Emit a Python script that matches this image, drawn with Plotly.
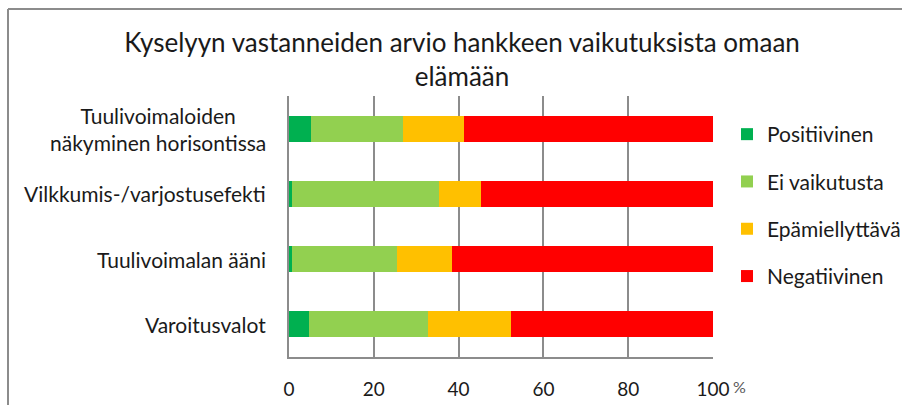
import plotly.graph_objects as go

categories = ["Tuulivoimaloiden<br>näkyminen horisontissa", "Vilkkumis-/varjostusefekti",
              "Tuulivoimalan ääni", "Varoitusvalot"]
series_names = ["Positiivinen", "Ei vaikutusta", "Epämiellyttävä", "Negatiivinen"]
positiivinen = [5.3, 0.8, 0.8, 4.7]
ei_vaikutusta = [21.7, 34.5, 24.6, 28.1]
epamiellyttava = [14.3, 10.0, 13.0, 19.5]
negatiivinen = [58.7, 54.7, 61.6, 47.7]
x_ticks = [0, 20, 40, 60, 80, 100]
colors = ["#00B050", "#92D050", "#FFC000", "#FF0000"]

W, H = 902, 405
L, R, T, B = 289, 902 - 713, 96, 405 - 357
pw, ph = W - L - R, H - T - B

fig = go.Figure()
for i, (name, vals) in enumerate(zip(series_names, [positiivinen, ei_vaikutusta, epamiellyttava, negatiivinen])):
    fig.add_trace(go.Bar(
        y=list(range(len(categories))), x=vals, name=name, orientation="h",
        marker=dict(color=colors[i], line=dict(width=0)),
        legendgroup=name, hoverinfo="x+name",
    ))

font_family = "Lato, Carlito, Calibri, sans-serif"
txt = "#1a1a1a"

annotations = []
for i, c in enumerate(categories):
    annotations.append(dict(
        text=c, x=(268 - L) / pw, xref="paper", y=i, yref="y",
        xanchor="right", yanchor="middle", align="center", showarrow=False,
        font=dict(family=font_family, size=21, color=txt),
    ))
annotations.append(dict(
    text="%", x=(739 - L) / pw, xref="paper", y=(357 - 386) / ph, yref="paper",
    xanchor="center", yanchor="middle", showarrow=False,
    font=dict(family=font_family, size=16, color="#595959"),
))

border_color = "#8c8c8c"
xl = (8 - L) / pw
yt = (357 - 9) / ph
shapes = [
    dict(type="line", xref="paper", yref="paper", x0=xl, x1=xl, y0=-1, y1=yt,
         line=dict(color=border_color, width=2)),
    dict(type="line", xref="paper", yref="paper", x0=xl, x1=3, y0=yt, y1=yt,
         line=dict(color=border_color, width=2)),
]

fig.update_layout(
    width=W, height=H,
    margin=dict(l=L, r=R, t=T, b=B, pad=0, autoexpand=False),
    paper_bgcolor="white", plot_bgcolor="white",
    barmode="stack", bargap=0.6,
    title=dict(text="Kyselyyn vastanneiden arvio hankkeen vaikutuksista omaan<br>elämään",
               x=462 / W, xanchor="center", xref="container", y=1 - 52 / H, yanchor="top",
               yref="container",
               font=dict(family=font_family, size=26, color=txt)),
    xaxis=dict(range=[0, 100], tickvals=x_ticks, ticktext=[str(v) for v in x_ticks],
               showgrid=True, gridcolor=border_color, gridwidth=1.5,
               showline=True, linecolor=border_color, linewidth=1.5, mirror=False,
               zeroline=False, ticks="", ticklabelstandoff=14, automargin=False,
               tickfont=dict(family=font_family, size=19, color=txt), fixedrange=True),
    yaxis=dict(range=[len(categories) - 0.5, -0.5], showticklabels=False, showgrid=False,
               showline=True, linecolor=border_color, linewidth=1.5, zeroline=False, ticks="",
               automargin=False, fixedrange=True),
    showlegend=True,
    legend=dict(x=(727 - L) / pw, xanchor="left", y=(357 - 114) / ph, yanchor="top",
                traceorder="grouped", tracegroupgap=17,
                font=dict(family=font_family, size=21, color=txt),
                bgcolor="rgba(0,0,0,0)"),
    annotations=annotations, shapes=shapes,
)

fig.write_html("out.html", config={"displayModeBar": False},
               post_script="document.body.style.margin='0px';")
